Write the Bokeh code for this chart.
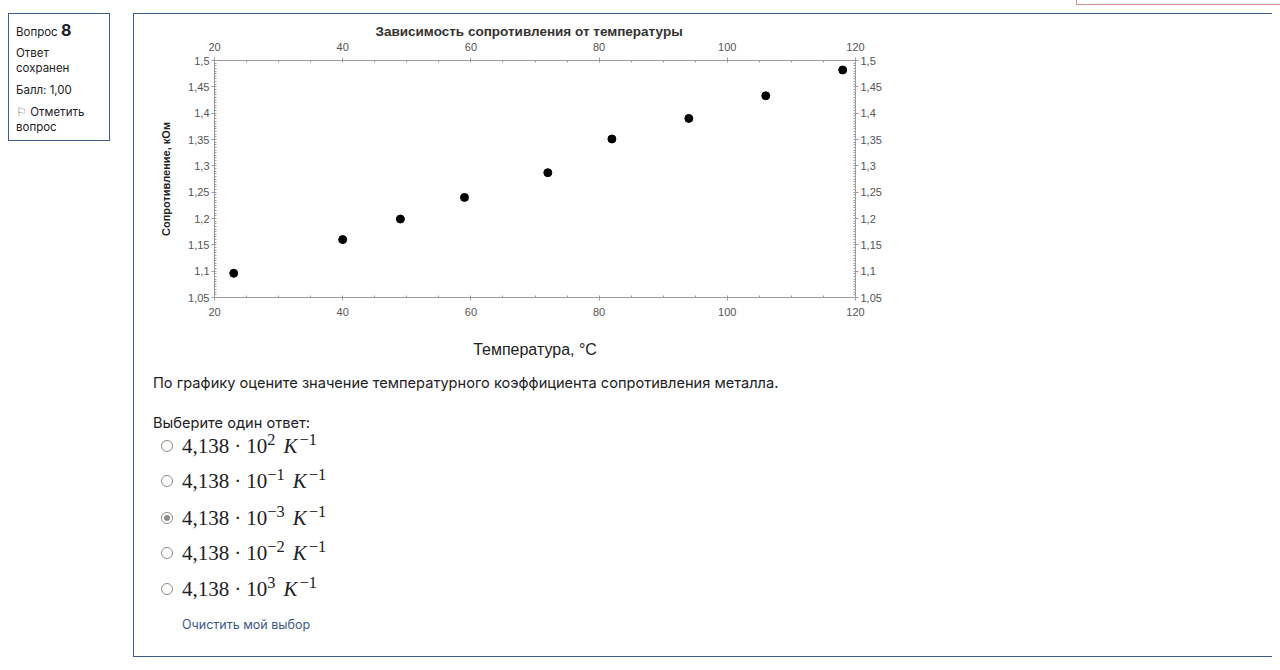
from bokeh.embed import file_html
from bokeh.layouts import column, row
from bokeh.models import CustomJSTickFormatter, Div, FixedTicker, LinearAxis
from bokeh.plotting import figure
from bokeh.resources import INLINE

# data
temperature = [23, 40, 49, 59, 72, 82, 94, 106, 118]
resistance = [1.096, 1.160, 1.199, 1.240, 1.287, 1.351, 1.390, 1.433, 1.482]

x_major = [20, 40, 60, 80, 100, 120]
y_major = [1.05, 1.1, 1.15, 1.2, 1.25, 1.3, 1.35, 1.4, 1.45, 1.5]

title = "Зависимость сопротивления от температуры"
x_label = "Температура, °C"
y_label = "Сопротивление, кОм"

question = "По графику оцените значение температурного коэффициента сопротивления металла."
prompt = "Выберите один ответ:"
mantissa = "4,138"
exponents = ["2", "−1", "−3", "−2", "3"]
selected = 2
clear_text = "Очистить мой выбор"

BORDER = "#3b5e8f"
TEXT = "#1d2125"
AXIS = "#9c9c9c"
LABEL = "#555555"
FONT = "Inter"


def style_axis(ax, ticker, formatter=None, standoff=2):
    ax.ticker = ticker
    if formatter is not None:
        ax.formatter = formatter
    ax.axis_line_color = AXIS
    ax.major_tick_line_color = AXIS
    ax.minor_tick_line_color = AXIS
    ax.major_tick_in = 0
    ax.major_tick_out = 3
    ax.minor_tick_in = 2
    ax.minor_tick_out = 0
    ax.major_label_standoff = standoff
    ax.major_label_text_font = "Liberation Sans"
    ax.major_label_text_font_size = "11px"
    ax.major_label_text_color = LABEL


p = figure(width=780, height=352, x_range=(20, 120), y_range=(1.05, 1.5),
           output_backend="svg", toolbar_location=None, title=title,
           x_axis_label=x_label, y_axis_label=y_label,
           min_border_left=80, min_border_right=59,
           min_border_top=46, min_border_bottom=69)
p.outline_line_color = None
p.xgrid.grid_line_color = None
p.ygrid.grid_line_color = None
p.title.align = "left"
p.title.offset = 161
p.title.text_font = "Liberation Sans"
p.title.text_font_size = "13.5px"
p.title.text_font_style = "bold"
p.title.text_color = "#333333"
p.title.standoff = 2

x_ticker = FixedTicker(ticks=x_major, minor_ticks=list(range(20, 121, 5)))
y_ticker = FixedTicker(ticks=y_major,
                       minor_ticks=[round(1.05 + 0.005 * i, 3) for i in range(91)])
comma = CustomJSTickFormatter(
    code="return tick.toFixed(2).replace(/0$/, '').replace('.', ',')")

bottom_axis = p.xaxis[0]
left_axis = p.yaxis[0]
top_axis = LinearAxis()
right_axis = LinearAxis()
style_axis(bottom_axis, x_ticker, standoff=7)
style_axis(left_axis, y_ticker, comma)
style_axis(top_axis, x_ticker, standoff=7)
style_axis(right_axis, y_ticker, comma)
p.add_layout(top_axis, "above")
p.add_layout(right_axis, "right")

bottom_axis.axis_label_text_font = "Liberation Sans"
bottom_axis.axis_label_text_font_size = "16px"
bottom_axis.axis_label_text_font_style = "normal"
bottom_axis.axis_label_text_color = "#222222"
bottom_axis.axis_label_standoff = 22
left_axis.axis_label_text_font = "Liberation Sans"
left_axis.axis_label_text_font_size = "11px"
left_axis.axis_label_text_font_style = "bold"
left_axis.axis_label_text_color = "#222222"
left_axis.axis_label_standoff = 13

p.scatter(temperature, resistance, size=8, color="black")


def line(top, left, html, size=11.5, extra=""):
    return (f'<div style="position:absolute;top:{top}px;left:{left}px;'
            f'font-size:{size}px;line-height:16px;white-space:nowrap;{extra}">{html}</div>')


info_html = (
    f'<div style="position:relative;box-sizing:border-box;width:102px;height:128px;'
    f'border:1px solid {BORDER};font-family:{FONT};color:{TEXT}">'
    + line(8, 7, 'Вопрос <span style="font-size:16px;font-weight:bold">8</span>')
    + line(31, 7, "Ответ")
    + line(46, 7, "сохранен")
    + line(68, 7, "Балл: 1,00")
    + line(90, 7, '<span style="color:#888">⚐</span> Отметить')
    + line(105, 7, "вопрос")
    + '</div>'
)
info = Div(text=info_html, width=102, height=128, margin=(8, 0, 0, 8))


def radio(checked):
    dot = ('<span style="position:absolute;left:2px;top:2px;width:6px;height:6px;'
           'border-radius:50%;background:#8c8c8c"></span>') if checked else ""
    return (f'<span style="position:relative;display:inline-block;width:12px;height:12px;'
            f'border:1px solid #8c8c8c;border-radius:50%;box-sizing:border-box;'
            f'background:#fff">{dot}</span>')


sup = '<span style="font-size:0.78em;position:relative;top:-0.5em;{}">{}</span>'
answers = ""
for i, e in enumerate(exponents):
    top = [69, 104, 141, 176, 212][i]
    math = (f'<span style="font-family:\'Liberation Serif\';font-size:21px">{mantissa}'
            f'<span style="margin:0 5px">·</span>10{sup.format("", e)}'
            f'<i style="margin-left:8px">K</i>{sup.format("margin-left:2px", "−1")}</span>')
    answers += (f'<div style="position:absolute;top:{top}px;left:27px;height:22px;'
                f'display:flex;align-items:center;white-space:nowrap">{radio(i == selected)}'
                f'<span style="margin-left:9px">{math}</span></div>')

body_html = (
    f'<div style="position:relative;width:1138px;height:290px;font-family:{FONT};color:{TEXT}">'
    + line(9, 19, question, size=14.6, extra="line-height:17px")
    + line(49, 19, prompt, size=14.6, extra="line-height:17px")
    + answers
    + line(251, 48, clear_text, size=12.5, extra="color:#3b5a8a")
    + '</div>'
)
body = Div(text=body_html, width=1138, height=290, margin=0)

main = column(p, body, margin=(8, 0, 0, 23),
              styles={"border-top": f"1px solid {BORDER}",
                      "border-left": f"1px solid {BORDER}",
                      "border-bottom": f"1px solid {BORDER}"})

strip = Div(text="", width=204, height=5, margin=(0, 0, 0, 1076),
            styles={"box-sizing": "border-box",
                    "border-left": "1px solid #d4938b",
                    "border-bottom": "1px solid #d4938b"})

page = column(strip, row(info, main))

open("out.html", "w").write(file_html(page, INLINE))
